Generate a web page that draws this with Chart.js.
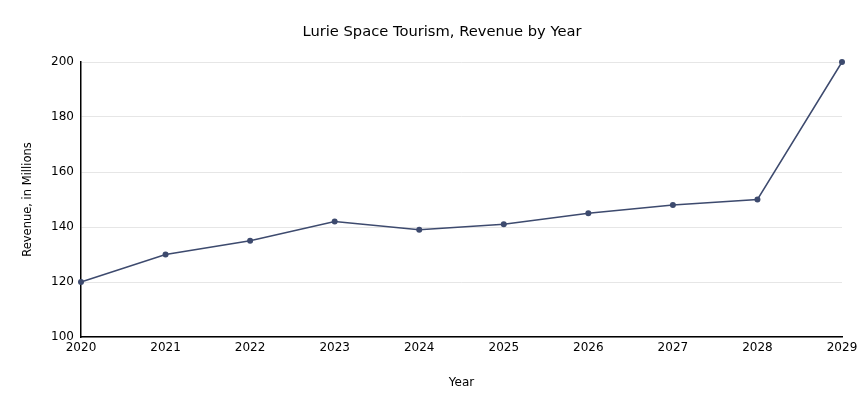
<!DOCTYPE html>
<html>
<head>
<meta charset="utf-8">
<script src="https://cdn.jsdelivr.net/npm/chart.js@4"></script>
<style>
  html, body { margin: 0; padding: 0; background: #fff; }
  #wrap { width: 863px; height: 397px; }
</style>
</head>
<body>
<div id="wrap"><canvas id="chart" width="863" height="397"></canvas></div>
<script>
// Chart data
var years = ['2020', '2021', '2022', '2023', '2024', '2025', '2026', '2027', '2028', '2029'];
var revenue = [120, 130, 135, 142, 139, 141, 145, 148, 150, 200];
var yMin = 100, yMax = 200, yStep = 20;
var chartTitle = 'Lurie Space Tourism, Revenue by Year';

var lineColor = '#3d4a6e';
var fontFamily = '"DejaVu Sans", Verdana, sans-serif';

// Title is drawn by hand so it can sit a little right of the canvas centre, like the original
var titlePlugin = {
    id: 'titleText',
    afterDraw: function (chart) {
        var ctx = chart.ctx;
        ctx.save();
        ctx.font = '14.7px ' + fontFamily;
        ctx.fillStyle = '#000';
        ctx.textAlign = 'center';
        ctx.textBaseline = 'middle';
        ctx.fillText(chartTitle, 442, 32);
        ctx.restore();
    }
};

new Chart(document.getElementById('chart'), {
    type: 'line',
    data: {
        labels: years,
        datasets: [{
            label: 'Revenue',
            data: revenue,
            borderColor: lineColor,
            backgroundColor: lineColor,
            borderWidth: 1.5,
            pointRadius: 3,
            pointBorderWidth: 0,
            tension: 0,
            fill: false,
            clip: false
        }]
    },
    options: {
        responsive: false,
        animation: false,
        layout: { padding: { left: 0, right: 21, top: 62, bottom: 0 } },
        plugins: {
            legend: { display: false },
            tooltip: { enabled: false },
            title: { display: false }
        },
        scales: {
            x: {
                offset: false,
                grid: { display: false, drawTicks: false },
                border: { display: true, color: '#000', width: 1.5 },
                ticks: {
                    color: '#000',
                    font: { family: fontFamily, size: 12 },
                    padding: 4,
                    maxRotation: 0,
                    autoSkip: false
                },
                title: {
                    display: true,
                    text: 'Year',
                    color: '#000',
                    font: { family: fontFamily, size: 12 },
                    padding: { top: 4, bottom: 7 }
                },
                afterFit: function (scale) { scale.height = 60; }
            },
            y: {
                min: yMin,
                max: yMax,
                grid: { color: '#e6e6e6', drawTicks: false },
                border: { display: true, color: '#000', width: 1.5 },
                ticks: {
                    stepSize: yStep,
                    color: '#000',
                    font: { family: fontFamily, size: 12 },
                    padding: 7
                },
                title: {
                    display: true,
                    text: 'Revenue, in Millions',
                    color: '#000',
                    font: { family: fontFamily, size: 11.5 },
                    padding: { top: 21, bottom: 0 }
                },
                afterFit: function (scale) { scale.width = 81; }
            }
        }
    },
    plugins: [titlePlugin]
});
</script>
</body>
</html>
